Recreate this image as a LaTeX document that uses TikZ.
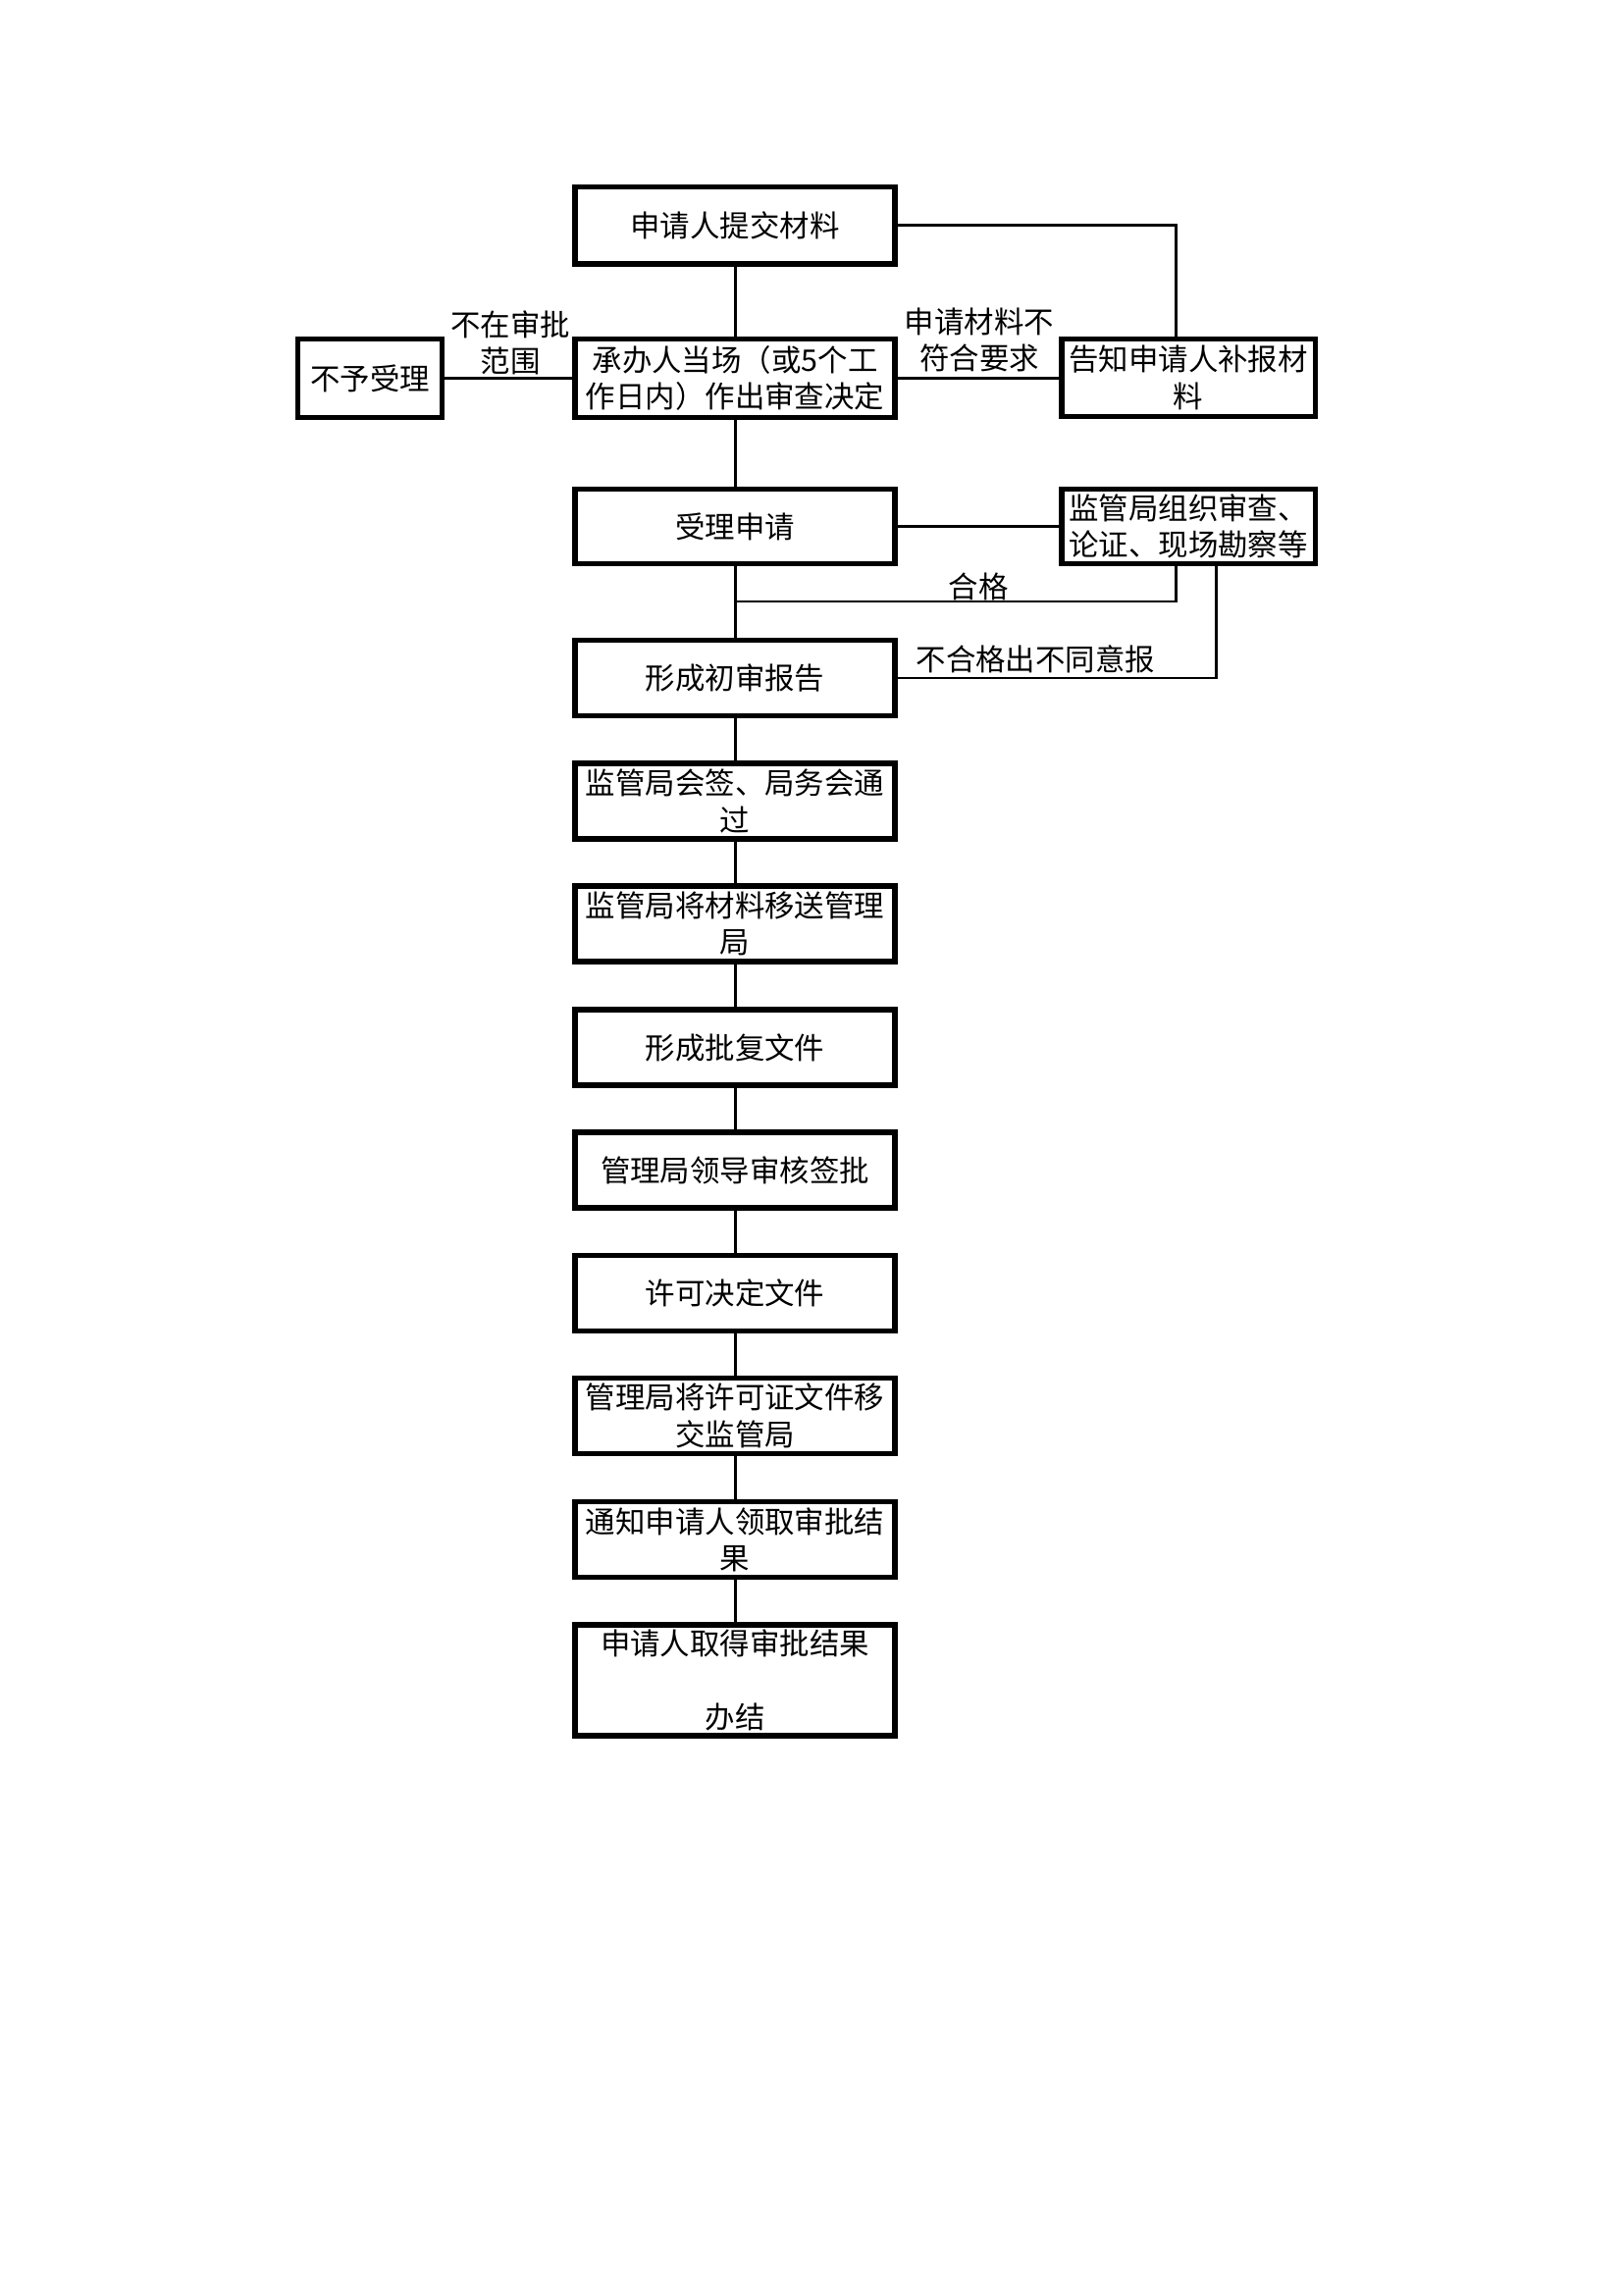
\documentclass[tikz,border=0pt]{standalone}
\usepackage{fontspec}
\newfontfamily\cjk{Noto Sans CJK SC}
\newcommand\txt{\cjk\fontsize{11pt}{13.5pt}\selectfont}
\begin{document}
\begin{tikzpicture}[x=0.127mm,y=-0.127mm,
  box/.style={draw,line width=0.7mm,minimum width=41.46mm,minimum height=9.8mm,inner sep=0pt,align=center,font=\txt},
  conn/.style={line width=0.38mm},
  lbl/.style={inner sep=0pt,align=center,font=\txt}]
\useasboundingbox (0,0) rectangle (1654,2339);
% main column
\node[box,minimum height=9.97mm] (b1) at (749,230) {申请人提交材料};
\node[box,minimum height=10.1mm] (b2) at (749,385.5) {承办人当场（或5个工\\作日内）作出审查决定};
\node[box,minimum height=9.6mm] (b3) at (749,536.5) {受理申请};
\node[box] (b4) at (749,691) {形成初审报告};
\node[box] (b5) at (749,816.5) {监管局会签、局务会通\\过};
\node[box] (b6) at (749,941.5) {监管局将材料移送管理\\局};
\node[box] (b7) at (749,1067.5) {形成批复文件};
\node[box] (b8) at (749,1192.5) {管理局领导审核签批};
\node[box] (b9) at (749,1318) {许可决定文件};
\node[box] (b10) at (749,1443) {管理局将许可证文件移\\交监管局};
\node[box] (b11) at (749,1569) {通知申请人领取审批结\\果};
\node[box,minimum height=14.41mm] (b12) at (749,1712.5) {申请人取得审批结果\\[13.5pt]办结};
% side boxes
\node[box,minimum width=18.61mm,minimum height=10.1mm] (lb) at (377,385.5) {不予受理};
\node[box,minimum width=32.83mm,minimum height=10.0mm] (rb) at (1211,385) {告知申请人补报材\\料};
\node[box,minimum width=32.83mm,minimum height=9.6mm] (mon) at (1211,536.5) {监管局组织审查、\\论证、现场勘察等};
% labels
\node[lbl] (l1) at (520,349.5) {不在审批\\范围};
\node[lbl] (l2) at (998,346.5) {申请材料不\\符合要求};
\node[lbl] (l3) at (997,598) {合格};
\node[lbl,anchor=west] (l4) at (933,672) {不合格出不同意报};
% junctions
\coordinate (j1) at (1198,229);
\coordinate (j2) at (749,613);
\coordinate (j3) at (1239,690);
% connectors
\draw[conn] (b1.east) -| (j1 |- rb.north);
\draw[conn] (lb.east) -- (b2.west);
\draw[conn] (b2.east) -- (b2.east -| rb.west);
\draw[conn] (b3.east) -- (b3.east -| mon.west);
\draw[conn] (j1 |- mon.south) |- (j2);
\draw[conn] (j3 |- mon.south) |- (b4.east);
\draw[conn] (b1.south) -- (b2.north);
\draw[conn] (b2.south) -- (b3.north);
\draw[conn] (b3.south) -- (b4.north);
\draw[conn] (b4.south) -- (b5.north);
\draw[conn] (b5.south) -- (b6.north);
\draw[conn] (b6.south) -- (b7.north);
\draw[conn] (b7.south) -- (b8.north);
\draw[conn] (b8.south) -- (b9.north);
\draw[conn] (b9.south) -- (b10.north);
\draw[conn] (b10.south) -- (b11.north);
\draw[conn] (b11.south) -- (b12.north);
\end{tikzpicture}
\end{document}
